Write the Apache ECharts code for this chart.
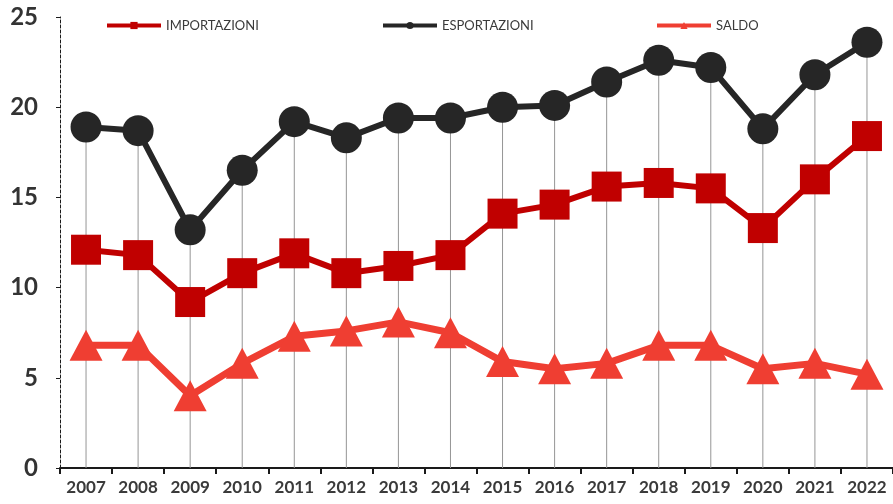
<!DOCTYPE html>
<html>
<head>
<meta charset="utf-8">
<script src="https://cdn.jsdelivr.net/npm/echarts@6/dist/echarts.min.js"></script>
<style>
  html, body { margin: 0; padding: 0; background: #fff; }
  #chart { width: 893px; height: 504px; }
</style>
</head>
<body>
<div id="chart"></div>
<script>
  // dati (miliardi)
  var years = ['2007','2008','2009','2010','2011','2012','2013','2014','2015','2016','2017','2018','2019','2020','2021','2022'];
  var importazioni = [12.1, 11.8, 9.2, 10.8, 11.9, 10.8, 11.2, 11.8, 14.1, 14.6, 15.6, 15.8, 15.5, 13.3, 16.0, 18.4];
  var esportazioni = [18.9, 18.7, 13.2, 16.5, 19.2, 18.3, 19.4, 19.4, 20.0, 20.1, 21.4, 22.6, 22.2, 18.8, 21.8, 23.6];
  var saldo = [6.8, 6.8, 4.0, 5.8, 7.3, 7.6, 8.1, 7.5, 5.9, 5.5, 5.8, 6.8, 6.8, 5.5, 5.8, 5.2];
  var yTicks = [0, 5, 10, 15, 20, 25];

  var font = 'Lato, "DejaVu Sans", sans-serif';
  var chart = echarts.init(document.getElementById('chart'));

  function legendAt(name, left) {
    return {
      data: [name],
      left: left,
      top: 14,
      itemWidth: 54,
      itemHeight: 9,
      itemGap: 4,
      lineStyle: { width: 4 },
      textStyle: { color: '#3a3a3a', fontSize: 13, fontFamily: font }
    };
  }

  chart.setOption({
    animation: false,
    legend: [
      legendAt('IMPORTAZIONI', 100),
      legendAt('ESPORTAZIONI', 376),
      legendAt('SALDO', 650)
    ],
    grid: { left: 60, top: 17, bottom: 36, width: 838 },
    xAxis: {
      type: 'category',
      data: years,
      boundaryGap: true,
      axisLine: { lineStyle: { color: '#1a1a1a', width: 2 } },
      axisTick: { show: true, length: 6, lineStyle: { color: '#1a1a1a', width: 2 } },
      axisLabel: { color: '#3a3a3a', fontSize: 17, fontWeight: 'bold', fontFamily: font, margin: 11, interval: 0 }
    },
    yAxis: {
      type: 'value',
      min: yTicks[0],
      max: yTicks[yTicks.length - 1],
      interval: 5,
      axisLine: { show: true, lineStyle: { color: '#1a1a1a', width: 1, type: [3, 2] } },
      axisTick: { show: true, length: 4, lineStyle: { color: '#1a1a1a' } },
      axisLabel: { color: '#333333', fontSize: 24, fontWeight: 'bold', fontFamily: font, margin: 22 },
      splitLine: { show: false }
    },
    series: [
      {
        name: 'drop',
        type: 'bar',
        data: esportazioni,
        barWidth: 1,
        itemStyle: { color: '#959595' },
        z: 1,
        silent: true
      },
      {
        name: 'IMPORTAZIONI',
        type: 'line',
        data: importazioni,
        symbol: 'rect',
        symbolSize: 30,
        lineStyle: { color: '#C00000', width: 6 },
        itemStyle: { color: '#C00000' },
        z: 3
      },
      {
        name: 'ESPORTAZIONI',
        type: 'line',
        data: esportazioni,
        symbol: 'circle',
        symbolSize: 31,
        lineStyle: { color: '#262626', width: 6 },
        itemStyle: { color: '#262626' },
        z: 3
      },
      {
        name: 'SALDO',
        type: 'line',
        data: saldo,
        symbol: 'triangle',
        symbolSize: [33, 31],
        lineStyle: { color: '#EF3E32', width: 7 },
        itemStyle: { color: '#EF3E32' },
        z: 3
      }
    ]
  });
</script>
</body>
</html>
